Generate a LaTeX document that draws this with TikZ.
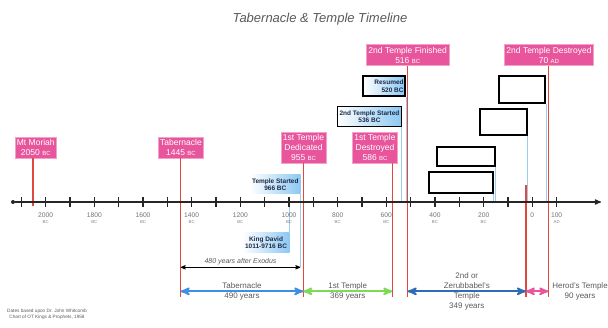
\documentclass[tikz,border=0pt]{standalone}
\usepackage{fontspec}
\setmainfont{Liberation Sans}
\usetikzlibrary{shapes,arrows}
\definecolor{tpink}{HTML}{E8559C}
\definecolor{tred}{HTML}{E0493C}
\definecolor{tsky}{HTML}{9DCBEA}
\definecolor{tblue}{HTML}{3D8FE6}
\definecolor{tgreen}{HTML}{7ED957}
\definecolor{tnavy}{HTML}{2E6CB5}
\definecolor{tgray}{HTML}{5A5A5A}
\definecolor{tink}{HTML}{1C2A48}
\definecolor{tboxblue}{HTML}{8CC8F2}
\newcommand{\smallbc}{{\fontsize{6}{6}\selectfont BC}}
\newcommand{\smallad}{{\fontsize{6}{6}\selectfont AD}}

\begin{document}
\begin{tikzpicture}[x=1pt,y=-1pt,>=stealth',every node/.style={inner sep=0pt},
  event/.style={rectangle,fill=tpink,draw=tpink!55!white,line width=0.6pt,text=white,align=center,inner xsep=2pt,inner ysep=2.5pt,font=\fontsize{8.5}{10}\selectfont},
  note/.style={rectangle,left color=white,right color=tboxblue,text=tink,align=center,font=\fontsize{6.5}{7.5}\selectfont\bfseries},
  framednote/.style={note,draw=black,line width=1.5pt},
  emptybox/.style={rectangle,draw=black,fill=white,line width=1.8pt},
  redline/.style={tred,line width=1.4pt},
  skyline/.style={tsky,line width=1pt},
  span/.style={<->,line width=2pt},
  spanlbl/.style={text=tgray,align=center,font=\fontsize{8}{10}\selectfont}
]
\useasboundingbox (0,0) rectangle (608,328);

\node[text=tgray,font=\itshape\fontsize{13}{15}\selectfont] (title) at (320,19) {Tabernacle \& Temple Timeline};

\coordinate (d2050) at (33,202);
\coordinate (d1445) at (180.7,202);
\coordinate (d1011) at (289.3,202);
\coordinate (d966) at (300.3,202);
\coordinate (d955) at (303.3,202);
\coordinate (d586) at (392.3,202);
\coordinate (d536) at (401.7,202);
\coordinate (d520) at (406,202);
\coordinate (d516) at (407.7,202);
\coordinate (d20) at (525.9,202);
\coordinate (d70) at (548.3,202);
\coordinate (ax) at (0,202);
\coordinate (axhi) at (0,185);
\coordinate (axlo) at (0,206);
\coordinate (ex) at (0,267.3);
\coordinate (arr) at (0,291.3);
\coordinate (low) at (0,297);

\node[event] (moriah) at (35.8,147.5) {Mt Moriah\\2050 \smallbc};
\node[event] (tabernacle) at (181,147.5) {Tabernacle\\1445 \smallbc};
\node[event] (dedicated) at (303.5,147.5) {1st Temple\\Dedicated\\955 \smallbc};
\node[event] (destroyed) at (375,147.5) {1st Temple\\Destroyed\\586 \smallbc};
\node[event] (finished) at (407.7,55) {2nd Temple Finished\\516 \smallbc};
\node[event] (herodend) at (549,55) {2nd Temple Destroyed\\70 \smallad};

\node[note,minimum width=50.7,minimum height=19] (started) at (275.3,184.5) {Temple Started\\966 BC};
\node[note,minimum width=47,minimum height=20] (david) at (266,242.7) {King David\\1011-9716 BC};
\node[framednote,minimum width=41.7,minimum height=20,align=right] (resumed) at (384,86) {\hspace*{10pt}Resumed\\520 BC};
\node[framednote,minimum width=64.4,minimum height=20] (restart) at (369.5,116.7) {2nd Temple Started\\536 BC};

\node[emptybox,minimum width=46.6,minimum height=27.3] (boxa) at (522,89.7) {};
\node[emptybox,minimum width=46.7,minimum height=26.6] (boxb) at (503.3,122) {};
\node[emptybox,minimum width=57.4,minimum height=19.3] (boxc) at (466,156.3) {};
\node[emptybox,minimum width=64,minimum height=20.7] (boxd) at (460.7,182.3) {};

\draw[redline] (moriah.south -| d2050) -- (d2050 |- axlo);
\draw[redline] (tabernacle.south -| d1445) -- (d1445 |- low);
\draw[redline] (dedicated.south -| d955) -- (d955 |- low);
\draw[redline] (destroyed.south -| d586) -- (d586 |- low);
\draw[redline] (finished.south -| d516) -- (d516 |- low);
\draw[redline] (herodend.south -| d70) -- (d70 |- low);
\draw[redline] (d20 |- axhi) -- (d20 |- low);

\draw[skyline] (started.south -| d966) -- (d966 |- ex);
\draw[skyline] (d1011 |- axlo) -- (d1011 |- david.north);
\draw[skyline] (restart.south -| d536) -- (d536 |- ax);
\draw[skyline] (resumed.south -| d520) -- (d520 |- ax);
\draw[skyline] (boxa.south east) -- (boxa.south east |- ax);
\draw[skyline] (boxb.south east) -- (boxb.south east |- ax);
\draw[skyline] (boxc.south east) -- (boxc.south east |- ax);
\draw[skyline] (boxd.south east) -- (boxd.south east |- ax);

\node[circle,fill=black!85,minimum size=4pt] (start) at (13,202) {};
\coordinate (stop) at (601,202);
\draw[->,black!85,line width=1.2pt] (start) -- (stop);
\foreach \i in {-21,...,1}
  \draw[black!85,line width=1.2pt] ({532.3+24.33*\i},197) -- ({532.3+24.33*\i},207);
\foreach \i/\t/\e in {-20/2000/BC,-18/1800/BC,-16/1600/BC,-14/1400/BC,-12/1200/BC,-10/1000/BC,-8/800/BC,-6/600/BC,-4/400/BC,-2/200/BC,0/0/,1/100/AD}{
  \node[text=black!55,font=\fontsize{6.7}{7}\selectfont] (yr\i) at ({532.3+24.33*\i},215) {\t};
  \node[text=black!50,font=\fontsize{4.3}{5}\selectfont] (era\i) at ({532.3+24.33*\i},221.7) {\e};
}

\draw[<->,line width=0.8pt] (d1445 |- ex) -- (d966 |- ex) node[midway,above=2pt,text=tgray,font=\itshape\fontsize{7}{8}\selectfont] {480 years after Exodus};
\draw[span,tblue] (d1445 |- arr) -- (d955 |- arr) node[midway,spanlbl] {Tabernacle\\490 years};
\draw[span,tgreen] (d955 |- arr) -- (d586 |- arr) node[midway,spanlbl] {1st Temple\\369 years};
\draw[span,tnavy] (d516 |- arr) -- (d20 |- arr) node[midway,spanlbl] {2nd or\\Zerubbabel's\\Temple\\349 years};
\draw[span,tpink] (d20 |- arr) -- (d70 |- arr);
\node[spanlbl] (herod) at (580,291.5) {Herod's Temple\\90 years};

\node[text=tgray,align=center,font=\fontsize{4.7}{5.6}\selectfont] (source) at (47,314.5) {Dates based upon Dr. John Whitcomb\\Chart of OT Kings \& Prophets, 1958};
\end{tikzpicture}
\end{document}
